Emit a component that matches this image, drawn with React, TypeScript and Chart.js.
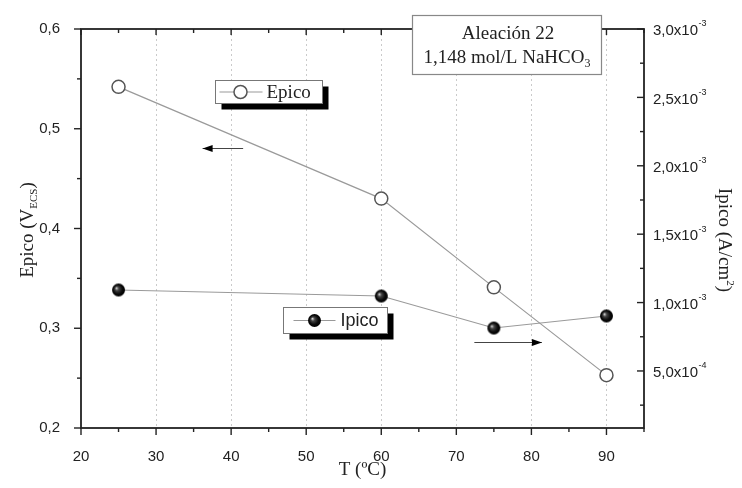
import { useEffect, useRef } from 'react';
import { Chart, registerables } from 'chart.js';

Chart.register(...registerables);

// ---- data ----
const temperatures = [25, 60, 75, 90];
const epicoValues = [0.542, 0.43, 0.341, 0.253];
const ipicoValues = [1.092e-3, 1.048e-3, 0.814e-3, 0.902e-3];

const xRange = [20, 95];
const xMajorStep = 10;
const xMinorStep = 5;
const leftRange = [0.2, 0.6];
const leftMajorStep = 0.1;
const leftMinorStep = 0.05;
const rightRange = [8.3e-5, 3.0e-3];
const rightMajorStep = 5e-4;
const rightMinorStep = 2.5e-4;

const xTitle = 'T (ºC)';
const leftTitle = ['Epico (V', 'ECS', ')'];
const rightTitle = ['Ipico (A/cm', '2', ')'];
const noteLines = ['Aleación 22', '1,148 mol/L NaHCO', '3'];
const epicoLabel = 'Epico';
const ipicoLabel = 'Ipico';

const SERIF = '"Liberation Serif", "Times New Roman", serif';
const SANS = '"Liberation Sans", Arial, sans-serif';

function makeSphere(r: number) {
  const c = document.createElement('canvas');
  const s = Math.ceil(r * 2) + 2;
  c.width = s;
  c.height = s;
  const g = c.getContext('2d')!;
  const cx = s / 2, cy = s / 2;
  const grad = g.createRadialGradient(cx - r * 0.35, cy - r * 0.3, 0, cx, cy, r);
  grad.addColorStop(0, '#e8e8e8');
  grad.addColorStop(0.3, '#444');
  grad.addColorStop(0.7, '#0a0a0a');
  grad.addColorStop(1, '#000');
  g.fillStyle = grad;
  g.beginPath();
  g.arc(cx, cy, r, 0, Math.PI * 2);
  g.fill();
  return c;
}

function stepValues(min: number, max: number, step: number) {
  const out: number[] = [];
  const start = Math.ceil(min / step - 1e-9);
  for (let i = start; i * step <= max + step * 1e-6; i++) out.push(+(i * step).toPrecision(10));
  return out;
}

function isMultiple(v: number, step: number) {
  const r = v / step;
  return Math.abs(r - Math.round(r)) < 1e-6;
}

export default function App() {
  const ref = useRef<HTMLCanvasElement>(null);

  useEffect(() => {
    const canvas = ref.current!;
    const sphere = makeSphere(6.5);

    const line = (ctx: CanvasRenderingContext2D, x1: number, y1: number, x2: number, y2: number) => {
      ctx.beginPath();
      ctx.moveTo(x1, y1);
      ctx.lineTo(x2, y2);
      ctx.stroke();
    };

    const drawComposite = (
      ctx: CanvasRenderingContext2D,
      parts: string[],
      mainSize: number,
      smallSize: number,
      shift: number,
      family: string,
    ) => {
      ctx.font = `${mainSize}px ${family}`;
      const w1 = ctx.measureText(parts[0]).width;
      const w3 = ctx.measureText(parts[2]).width;
      ctx.font = `${smallSize}px ${family}`;
      const w2 = ctx.measureText(parts[1]).width;
      let sx = -(w1 + w2 + w3) / 2;
      ctx.font = `${mainSize}px ${family}`;
      ctx.fillText(parts[0], sx, 0);
      sx += w1;
      ctx.font = `${smallSize}px ${family}`;
      ctx.fillText(parts[1], sx, shift);
      sx += w2;
      ctx.font = `${mainSize}px ${family}`;
      ctx.fillText(parts[2], sx, 0);
    };

    const gridPlugin = {
      id: 'gridPlugin',
      beforeDatasetsDraw(chart: any) {
        const { ctx, chartArea: a, scales } = chart;
        const x = scales.x;
        ctx.save();
        ctx.strokeStyle = '#cacaca';
        ctx.lineWidth = 1;
        ctx.setLineDash([2, 3]);
        stepValues(xRange[0], xRange[1], xMajorStep).forEach((v) => {
          if (v <= xRange[0] || v >= xRange[1]) return;
          const px = Math.round(x.getPixelForValue(v)) + 0.5;
          line(ctx, px, a.top, px, a.bottom);
        });
        ctx.restore();
      },
    };

    const decorPlugin = {
      id: 'decorPlugin',
      afterDraw(chart: any) {
        const { ctx, chartArea: a, scales } = chart;
        const x = scales.x, y = scales.y, y1 = scales.y1;
        ctx.save();
        ctx.setLineDash([]);
        // frame
        ctx.strokeStyle = '#222';
        ctx.lineWidth = 1.8;
        ctx.strokeRect(a.left, a.top, a.right - a.left, a.bottom - a.top);
        ctx.lineWidth = 1.4;
        // x ticks: bottom outward, top inward
        stepValues(xRange[0], xRange[1], xMinorStep).forEach((v) => {
          const px = x.getPixelForValue(v);
          const major = isMultiple(v, xMajorStep);
          line(ctx, px, a.bottom, px, a.bottom + (major ? 7 : 4));
          line(ctx, px, a.top, px, a.top + (major ? 6 : 4));
        });
        // left ticks outward
        stepValues(leftRange[0], leftRange[1], leftMinorStep).forEach((v) => {
          const py = y.getPixelForValue(v);
          const major = isMultiple(v, leftMajorStep);
          line(ctx, a.left - (major ? 7 : 4), py, a.left, py);
        });
        // right ticks inward
        stepValues(rightRange[0], rightRange[1], rightMinorStep).forEach((v) => {
          const py = y1.getPixelForValue(v);
          const major = isMultiple(v, rightMajorStep);
          line(ctx, a.right - (major ? 7 : 4), py, a.right, py);
        });

        // right tick labels with superscript exponent
        ctx.fillStyle = '#222';
        ctx.textBaseline = 'middle';
        ctx.textAlign = 'left';
        stepValues(rightRange[0], rightRange[1], rightMajorStep).forEach((v) => {
          const py = y1.getPixelForValue(v);
          const exp = Math.floor(Math.log10(v) + 1e-9);
          const mant = (v / Math.pow(10, exp)).toFixed(1).replace('.', ',');
          const base = mant + 'x10';
          ctx.font = `15px ${SANS}`;
          ctx.fillText(base, a.right + 9, py + 2);
          const w = ctx.measureText(base).width;
          ctx.font = `9px ${SANS}`;
          ctx.fillText(String(exp), a.right + 9 + w + 0.5, py - 5);
        });

        // axis titles
        ctx.fillStyle = '#222';
        ctx.textAlign = 'left';
        ctx.textBaseline = 'alphabetic';
        // bottom
        ctx.font = `19px ${SERIF}`;
        const tw = ctx.measureText(xTitle).width;
        ctx.fillText(xTitle, (a.left + a.right) / 2 - tw / 2, 475);
        // left (rotated -90)
        ctx.save();
        ctx.translate(33, 230);
        ctx.rotate(-Math.PI / 2);
        drawComposite(ctx, leftTitle, 19, 11, 4, SERIF);
        ctx.restore();
        // right (rotated +90)
        ctx.save();
        ctx.translate(719, 240);
        ctx.rotate(Math.PI / 2);
        drawComposite(ctx, rightTitle, 19, 11, -8, SERIF);
        ctx.restore();

        // arrows
        const arrow = (vx1: number, vx2: number, vy: number, scaleY: any) => {
          const x1 = x.getPixelForValue(vx1), x2 = x.getPixelForValue(vx2);
          const py = Math.round(scaleY.getPixelForValue(vy)) + 0.5;
          ctx.strokeStyle = '#444';
          ctx.lineWidth = 1;
          line(ctx, x1, py, x2, py);
          const dir = Math.sign(x2 - x1);
          ctx.fillStyle = '#000';
          ctx.beginPath();
          ctx.moveTo(x2, py);
          ctx.lineTo(x2 - dir * 10, py - 3.5);
          ctx.lineTo(x2 - dir * 10, py + 3.5);
          ctx.closePath();
          ctx.fill();
        };
        arrow(41.6, 36.2, 0.4807, y);
        arrow(72.4, 81.4, 0.2862, y);

        // legend boxes with shadow
        const legendBox = (vx1: number, vx2: number, vy1: number, vy2: number, draw: (l: number, t: number, w: number, h: number) => void) => {
          const l = Math.round(x.getPixelForValue(vx1)) + 0.5;
          const r = Math.round(x.getPixelForValue(vx2)) + 0.5;
          const t = Math.round(y.getPixelForValue(vy1)) + 0.5;
          const b = Math.round(y.getPixelForValue(vy2)) + 0.5;
          ctx.fillStyle = '#000';
          ctx.fillRect(l + 6, t + 6, r - l, b - t);
          ctx.fillStyle = '#fff';
          ctx.fillRect(l, t, r - l, b - t);
          ctx.strokeStyle = '#777';
          ctx.lineWidth = 1;
          ctx.strokeRect(l, t, r - l, b - t);
          draw(l, t, r - l, b - t);
        };
        legendBox(37.8, 52.1, 0.5489, 0.5258, (l, t, w, h) => {
          const cy = t + h / 2;
          ctx.strokeStyle = '#999';
          ctx.lineWidth = 1.2;
          line(ctx, l + 4, cy, l + 47, cy);
          ctx.fillStyle = '#fff';
          ctx.strokeStyle = '#555';
          ctx.lineWidth = 1.5;
          ctx.beginPath();
          ctx.arc(l + 25, cy, 6.5, 0, Math.PI * 2);
          ctx.fill();
          ctx.stroke();
          ctx.fillStyle = '#222';
          ctx.font = `19px ${SERIF}`;
          ctx.textBaseline = 'middle';
          ctx.fillText(epicoLabel, l + 51, cy + 1);
        });
        legendBox(46.9, 60.7, 0.3213, 0.2952, (l, t, w, h) => {
          const cy = t + h / 2;
          ctx.strokeStyle = '#999';
          ctx.lineWidth = 1.2;
          line(ctx, l + 10, cy, l + 52, cy);
          ctx.drawImage(sphere, l + 31 - sphere.width / 2, cy - sphere.height / 2);
          ctx.fillStyle = '#222';
          ctx.font = `18px ${SANS}`;
          ctx.textBaseline = 'middle';
          ctx.fillText(ipicoLabel, l + 57, cy + 1);
        });

        // note box (top right)
        {
          const l = Math.round(x.getPixelForValue(64.05)) + 0.5;
          const r = Math.round(x.getPixelForValue(89.3)) + 0.5;
          const t = Math.round(y.getPixelForValue(0.614)) + 0.5;
          const b = Math.round(y.getPixelForValue(0.555)) + 0.5;
          ctx.fillStyle = '#fff';
          ctx.fillRect(l, t, r - l, b - t);
          ctx.strokeStyle = '#888';
          ctx.lineWidth = 1.2;
          ctx.strokeRect(l, t, r - l, b - t);
          const cx = (l + r) / 2;
          ctx.fillStyle = '#222';
          ctx.textBaseline = 'alphabetic';
          ctx.save();
          ctx.translate(cx + 1, t + 23);
          drawComposite(ctx, [noteLines[0], '', ''], 19, 12, 0, SERIF);
          ctx.restore();
          ctx.save();
          ctx.translate(cx, t + 47);
          drawComposite(ctx, [noteLines[1], noteLines[2], ''], 19, 12, 4, SERIF);
          ctx.restore();
        }
        ctx.restore();
      },
    };

    const chart = new Chart(canvas, {
      type: 'line',
      data: {
        datasets: [
          {
            label: ipicoLabel,
            data: temperatures.map((t, i) => ({ x: t, y: ipicoValues[i] })),
            yAxisID: 'y1',
            borderColor: '#9a9a9a',
            borderWidth: 1.2,
            pointStyle: sphere as any,
            pointRadius: 6.5,
            showLine: true,
          },
          {
            label: epicoLabel,
            data: temperatures.map((t, i) => ({ x: t, y: epicoValues[i] })),
            yAxisID: 'y',
            borderColor: '#9a9a9a',
            borderWidth: 1.2,
            pointStyle: 'circle',
            pointRadius: 6.5,
            pointBorderColor: '#555',
            pointBorderWidth: 1.5,
            pointBackgroundColor: '#fff',
            showLine: true,
          },
        ],
      },
      options: {
        animation: false,
        responsive: false,
        devicePixelRatio: 1,
        layout: { padding: { top: 29, left: 0, right: 0, bottom: 0 } },
        plugins: { legend: { display: false }, tooltip: { enabled: false } },
        scales: {
          x: {
            type: 'linear',
            position: 'bottom',
            min: xRange[0],
            max: xRange[1],
            grid: { display: false },
            border: { display: false },
            ticks: {
              stepSize: xMajorStep,
              includeBounds: false,
              padding: 12,
              color: '#222',
              font: { family: SANS, size: 15 },
              maxRotation: 0,
              callback: (v: any) => (isMultiple(Number(v), xMajorStep) ? String(v) : ''),
            },
            afterFit: (s: any) => {
              s.height = 60;
            },
          },
          y: {
            type: 'linear',
            position: 'left',
            min: leftRange[0],
            max: leftRange[1],
            grid: { display: false },
            border: { display: false },
            ticks: {
              stepSize: leftMajorStep,
              padding: 13,
              color: '#222',
              font: { family: SANS, size: 15 },
              callback: (v: any) => Number(v).toFixed(1).replace('.', ','),
            },
            afterFit: (s: any) => {
              s.width = 81;
            },
          },
          y1: {
            type: 'linear',
            position: 'right',
            min: rightRange[0],
            max: rightRange[1],
            grid: { display: false },
            border: { display: false },
            ticks: { display: false, stepSize: rightMajorStep },
            afterFit: (s: any) => {
              s.width = 98;
            },
          },
        },
      },
      plugins: [gridPlugin, decorPlugin],
    } as any);

    return () => chart.destroy();
  }, []);

  return (
    <div style={{ position: 'absolute', left: 0, top: 0, width: 742, height: 488, background: '#fff' }}>
      <canvas ref={ref} width={742} height={488} style={{ display: 'block' }} />
    </div>
  );
}
